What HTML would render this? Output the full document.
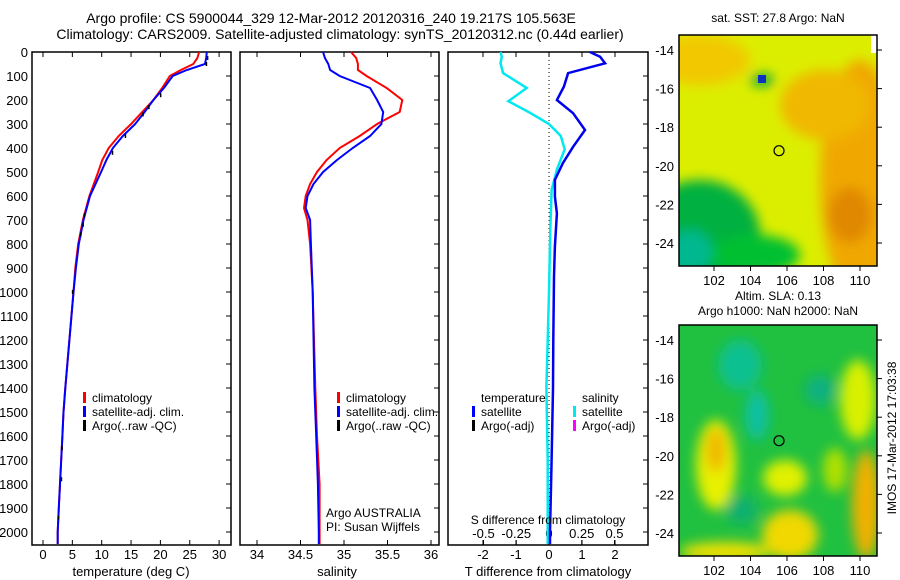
<!DOCTYPE html>
<html><head><meta charset="utf-8"><style>
html,body{margin:0;padding:0;background:#fff;}
svg{display:block;font-family:"Liberation Sans",sans-serif;}
</style></head><body>
<svg id="fig" width="900" height="580" xmlns="http://www.w3.org/2000/svg">
<defs>
<filter id="blur1" x="-20%" y="-20%" width="140%" height="140%"><feGaussianBlur stdDeviation="6"/></filter>
<filter id="blur2" x="-20%" y="-20%" width="140%" height="140%"><feGaussianBlur stdDeviation="6"/></filter>
<clipPath id="clipM1"><rect x="679" y="35" width="198" height="231"/></clipPath>
<clipPath id="clipM2"><rect x="679" y="325" width="198" height="231"/></clipPath>
</defs>
<text x="331" y="23" font-size="14" text-anchor="middle">Argo profile: CS 5900044_329 12-Mar-2012 20120316_240 19.217S 105.563E</text>
<text x="340" y="39" font-size="14" text-anchor="middle">Climatology: CARS2009. Satellite-adjusted climatology: synTS_20120312.nc (0.44d earlier)</text>
<g id="g1"></g>
<g id="g2"></g>
<g id="g3"></g>
<g id="m1" clip-path="url(#clipM1)">
 <rect x="679" y="35" width="198" height="231" fill="#dcee00"/>
 <g filter="url(#blur1)">
  <ellipse cx="700" cy="60" rx="50" ry="25" fill="#f2c800"/>
  <ellipse cx="860" cy="180" rx="40" ry="120" fill="#f0a800"/>
  <ellipse cx="850" cy="215" rx="22" ry="28" fill="#e08800"/>
  <ellipse cx="825" cy="105" rx="45" ry="35" fill="#f0b800"/>
  <ellipse cx="700" cy="235" rx="60" ry="55" fill="#00b040"/>
  <ellipse cx="755" cy="255" rx="45" ry="20" fill="#00c030"/>
  <ellipse cx="690" cy="252" rx="22" ry="22" fill="#00b890"/>
  <ellipse cx="762" cy="80" rx="12" ry="6" fill="#00a040"/>
 </g>
 <rect x="758" y="75" width="8" height="8" fill="#1030c0"/>
 <rect x="871" y="35" width="10" height="18" fill="#fff"/>
</g>
<g id="m2" clip-path="url(#clipM2)">
 <rect x="679" y="325" width="198" height="231" fill="#20c040"/>
 <g filter="url(#blur2)">
  <ellipse cx="740" cy="365" rx="22" ry="25" fill="#10c090"/>
  <ellipse cx="757" cy="415" rx="12" ry="25" fill="#10c0a0"/>
  <ellipse cx="820" cy="390" rx="15" ry="15" fill="#10b080"/>
  <ellipse cx="716" cy="465" rx="20" ry="45" fill="#e8f000"/>
  <ellipse cx="716" cy="450" rx="10" ry="22" fill="#f0b800"/>
  <ellipse cx="785" cy="478" rx="22" ry="18" fill="#e0f000"/>
  <ellipse cx="790" cy="535" rx="28" ry="25" fill="#f0d800"/>
  <ellipse cx="725" cy="552" rx="45" ry="10" fill="#f0e000"/>
  <ellipse cx="866" cy="505" rx="14" ry="55" fill="#f0b000"/>
  <ellipse cx="858" cy="400" rx="18" ry="40" fill="#d8f000"/>
  <ellipse cx="835" cy="470" rx="12" ry="22" fill="#b0e000"/>
  <ellipse cx="742" cy="510" rx="16" ry="14" fill="#10b070"/>
 </g>
</g>
</svg>
<script>
// ---- data ----
const depthT = [0,25,50,75,100,150,200,250,300,350,400,450,500,600,700,800,900,1000,1200,1400,1500,1600,1700,1800,1900,2000,2050];
const tempClim = [26.6,26.3,25.6,23.5,21.6,20.3,18.8,16.9,15.0,12.9,11.2,10.1,9.4,7.9,6.8,6.0,5.5,5.2,4.5,3.8,3.5,3.3,3.1,2.9,2.7,2.5,2.5];
const tempSat  = [27.9,27.8,27.6,24.5,22.1,20.6,18.8,17.3,15.7,13.6,11.9,10.8,9.9,8.0,6.9,6.1,5.6,5.2,4.5,3.8,3.5,3.3,3.1,2.9,2.7,2.5,2.5];
const argoDepth = [25,50,180,230,260,350,420,680,720,760,1000,1650,1780,1940];
const argoTemp  = [28.0,27.8,20.0,18.0,17.0,14.0,11.8,7.0,6.8,6.4,5.0,3.2,3.1,2.6];
const depthS = [0,25,50,75,100,150,200,250,300,350,400,450,500,550,600,650,700,800,1000,1400,1600,1800,2000,2050];
const salClim = [35.08,35.14,35.16,35.16,35.26,35.49,35.67,35.64,35.38,35.18,34.95,34.80,34.69,34.61,34.56,34.54,34.58,34.61,34.64,34.67,34.69,34.72,34.72,34.72];
const salSat  = [34.76,34.78,34.82,34.84,34.95,35.30,35.38,35.45,35.43,35.30,35.10,34.92,34.76,34.65,34.58,34.56,34.61,34.62,34.64,34.66,34.68,34.70,34.71,34.71];
const depthD = [0,20,47,88,144,200,255,325,395,463,533,603,672,810,935,1200,1400,1700,2000,2050];
const tDiff = [1.24,1.55,1.70,0.58,0.45,0.24,0.73,1.09,0.73,0.42,0.18,0.18,0.24,0.18,0.15,0.13,0.12,0.08,0.03,0.03];
const depthSD = [0,20,47,88,150,205,255,300,350,405,490,575,740,1000,1400,1700,2000,2050];
const sDiff = [-0.37,-0.36,-0.37,-0.35,-0.17,-0.31,-0.14,0.0,0.09,0.12,0.06,0.02,0.01,0.0,-0.02,-0.01,-0.01,-0.01];
const depthTicks = [0,100,200,300,400,500,600,700,800,900,1000,1100,1200,1300,1400,1500,1600,1700,1800,1900,2000];
const tempTicks = [0,5,10,15,20,25,30];
const salTicks = [34,34.5,35,35.5,36];
const salTickLabels = ["34","34.5","35","35.5","36"];
const tdTicks = [-2,-1,0,1,2];
const sdTicks = [-0.5,-0.25,0,0.25,0.5];
const sdTickLabels = ["-0.5","-0.25","0","0.25","0.5"];
const latTicks = [14,16,18,20,22,24];
const lonTicks = [102,104,106,108,110];

const NS="http://www.w3.org/2000/svg";
function mk(parent,tag,attrs,text){const e=document.createElementNS(NS,tag);for(const k in attrs)e.setAttribute(k,attrs[k]);if(text!==undefined)e.textContent=text;parent.appendChild(e);return e;}
const yD = d => 52 + d*0.24;
const TOP=52, BOT=545;
const xT = v => 43 + v*5.87;
const xS = v => 257 + (v-34)*87;
const xTD = v => 549 + v*33;
const xSD = v => 549 + v*131;
let t;
function frame(g,x0,x1,showLabels){
  const r=mk(g,'rect',{x:x0,y:TOP,width:x1-x0,height:BOT-TOP,fill:'none',stroke:'#000','stroke-width':1.5});
  
  
  depthTicks.forEach(d=>{
    mk(g,'line',{x1:x1-5,x2:x1,y1:yD(d),y2:yD(d),stroke:'#000'});
    if(showLabels){
      const tt=mk(g,'text',{x:x0-4,y:yD(d)+5,'font-size':13,'text-anchor':'end'},String(d));
      
      
    }
  });
}
function xticks(g,ticks,labels,fx,ylab){
  ticks.forEach((v,i)=>{
    mk(g,'line',{x1:fx(v),x2:fx(v),y1:BOT,y2:BOT-5,stroke:'#000'});
    mk(g,'line',{x1:fx(v),x2:fx(v),y1:TOP,y2:TOP+5,stroke:'#000'});
    const tt=mk(g,'text',{x:fx(v),y:ylab,'font-size':13,'text-anchor':'middle'},labels[i]);
    
    
  });
}
function line(g,xs,ds,fx,color,w,name){
  const p=xs.map((v,i)=>(i?'L':'M')+fx(v).toFixed(1)+','+yD(ds[i]).toFixed(1)).join('');
  const e=mk(g,'path',{d:p,fill:'none',stroke:color,'stroke-width':w});
  
  
}
function legend(g,x,y,items){
  items.forEach((it,i)=>{
    mk(g,'rect',{x:x,y:y+i*14-10,width:3,height:11,fill:it[1]});
    const tt=mk(g,'text',{x:x+9,y:y+i*14,'font-size':12},it[0]);
    
    
  });
}
// Panel 1
const g1=document.getElementById('g1');
frame(g1,32,231,true);
xticks(g1,tempTicks,tempTicks.map(String),xT,559);
line(g1,tempClim,depthT,xT,'#ff0000',2,'climatology-temperature-line');
line(g1,tempSat,depthT,xT,'#0000ff',2,'satellite-temperature-line');
argoTemp.forEach((v,i)=>{const c=mk(g1,'rect',{x:xT(v)-0.5,y:yD(argoDepth[i])-2,width:1.5,height:4,fill:'#000'});
 
 });
t=mk(g1,'text',{x:131,y:576,'font-size':13,'text-anchor':'middle'},'temperature (deg C)');

legend(g1,83,402,[['climatology','#ff0000'],['satellite-adj. clim.','#0000ff'],['Argo(..raw -QC)','#000']]);
// Panel 2
const g2=document.getElementById('g2');
frame(g2,240,439,false);
xticks(g2,salTicks,salTickLabels,xS,559);
line(g2,salClim,depthS,xS,'#ff0000',2,'climatology-salinity-line');
line(g2,salSat,depthS,xS,'#0000ff',2,'satellite-salinity-line');
t=mk(g2,'text',{x:337,y:576,'font-size':13,'text-anchor':'middle'},'salinity');

legend(g2,337,402,[['climatology','#ff0000'],['satellite-adj. clim.','#0000ff'],['Argo(..raw -QC)','#000']]);
t=mk(g2,'text',{x:326,y:517,'font-size':12},'Argo AUSTRALIA');

t=mk(g2,'text',{x:326,y:531,'font-size':12},'PI: Susan Wijffels');

// Panel 3
const g3=document.getElementById('g3');
frame(g3,448,648,false);
tdTicks.forEach(v=>{mk(g3,'line',{x1:xTD(v),x2:xTD(v),y1:BOT,y2:BOT-5,stroke:'#000'});mk(g3,'line',{x1:xTD(v),x2:xTD(v),y1:TOP,y2:TOP+5,stroke:'#000'});
 t=mk(g3,'text',{x:xTD(v),y:559,'font-size':13,'text-anchor':'middle'},String(v));
 
 });
sdTicks.forEach((v,i)=>{mk(g3,'line',{x1:xSD(v),x2:xSD(v),y1:BOT,y2:BOT-5,stroke:'#000'});
 t=mk(g3,'text',{x:xSD(v),y:538,'font-size':13,'text-anchor':'middle'},sdTickLabels[i]);
 
 });
mk(g3,'line',{x1:xTD(0),x2:xTD(0),y1:TOP,y2:BOT,stroke:'#000','stroke-dasharray':'1,3'});
line(g3,sDiff,depthSD,xSD,'#00e8f0',2.5,'salinity-difference-line');
line(g3,tDiff,depthD,xTD,'#0000ee',2.5,'temperature-difference-line');
t=mk(g3,'text',{x:548,y:524,'font-size':12,'text-anchor':'middle'},'S difference from climatology');

t=mk(g3,'text',{x:548,y:576,'font-size':13,'text-anchor':'middle'},'T difference from climatology');

t=mk(g3,'text',{x:481,y:402,'font-size':12},'temperature');

t=mk(g3,'text',{x:582,y:402,'font-size':12},'salinity');

legend(g3,472,416,[['satellite','#0000ff'],['Argo(-adj)','#000']]);
legend(g3,573,416,[['satellite','#00e8f0'],['Argo(-adj)','#ff00ff']]);
// Maps
const svg=document.getElementById('fig');
function mapAxes(y0,title1,title2){
  const g=mk(svg,'g',{});
  
  
  mk(g,'rect',{x:679,y:y0,width:198,height:231,fill:'none',stroke:'#000','stroke-width':1.5});
  const fy=l=>y0+15+(l-14)*19.3, fx=l=>714+(l-102)*18.25;
  latTicks.forEach(l=>{mk(g,'line',{x1:877,x2:882,y1:fy(l),y2:fy(l),stroke:'#000'});
    const tt=mk(g,'text',{x:674,y:fy(l)+5,'font-size':13,'text-anchor':'end'},'-'+l);
    
    });
  lonTicks.forEach(l=>{mk(g,'line',{x1:fx(l),x2:fx(l),y1:y0+231,y2:y0+236,stroke:'#000'});
    const tt=mk(g,'text',{x:fx(l),y:y0+250,'font-size':13,'text-anchor':'middle'},String(l));
    
    });
  const c=mk(g,'circle',{cx:fx(105.563),cy:fy(19.217),r:5,fill:'none',stroke:'#000','stroke-width':1.2});
  
  
  if(title2){
    const a=mk(g,'text',{x:778,y:y0-25,'font-size':12,'text-anchor':'middle'},title1);
    
    
    const b=mk(g,'text',{x:778,y:y0-10,'font-size':12,'text-anchor':'middle'},title2);
    
    
  } else {
    const a=mk(g,'text',{x:778,y:y0-13,'font-size':12,'text-anchor':'middle'},title1);
    
    
  }
}
mapAxes(35,'sat. SST: 27.8 Argo: NaN');
mapAxes(325,'Altim. SLA: 0.13','Argo h1000: NaN h2000: NaN');
t=mk(svg,'text',{x:0,y:0,'font-size':12,'text-anchor':'middle',transform:'translate(896,438) rotate(-90)'},'IMOS 17-Mar-2012 17:03:38');

</script>
</body></html>
